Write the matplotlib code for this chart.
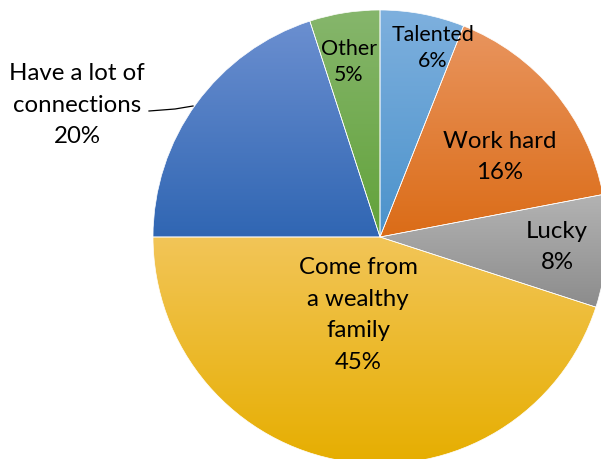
import numpy as np
import matplotlib.pyplot as plt
from matplotlib.colors import LinearSegmentedColormap

plt.rcParams['font.family'] = ['Lato', 'DejaVu Sans']

# survey answers, clockwise from twelve o'clock
categories = ['Talented', 'Work hard', 'Lucky', 'Come from\na wealthy\nfamily',
              'Have a lot of\nconnections', 'Other']
shares = [6, 16, 8, 45, 20, 5]

# light (top) / dark (bottom) shade of each slice
top_colors = ['#7eb0de', '#e9955f', '#b3b3b3', '#f2c558', '#6b8fd0', '#86b66c']
bottom_colors = ['#4b92cb', '#db6c17', '#8c8c8c', '#e6ae00', '#3066b3', '#62a23a']

W, H = 601, 459
cx, cy, radius = 380, 237, 227

fig = plt.figure(figsize=(W / 100, H / 100), dpi=100)
ax = fig.add_axes([0, 0, 1, 1])
ax.set_xlim(0, W)
ax.set_ylim(-H, 0)
ax.set_aspect('equal')
ax.axis('off')

wedges, _ = ax.pie(shares, center=(cx, -cy), radius=radius, startangle=90,
                   counterclock=False, colors=bottom_colors,
                   wedgeprops=dict(edgecolor='white', linewidth=0.5))

# vertical gradient inside each slice
grad = np.linspace(0, 1, 256).reshape(-1, 1)
for w, c0, c1 in zip(wedges, top_colors, bottom_colors):
    ext = w.get_path().get_extents()
    cmap = LinearSegmentedColormap.from_list('g', [c1, c0])
    im = ax.imshow(grad, cmap=cmap, origin='lower', aspect='auto',
                   extent=[ext.x0, ext.x1, ext.y0, ext.y1], zorder=2)
    im.set_clip_path(w)
    w.set_zorder(3)
    w.set_facecolor('none')

ax.set_xlim(0, W)
ax.set_ylim(-H, 0)

# label centres (pixels from top-left); the two thin slices get a smaller font
label_pos = [(433, 48), (500, 157), (557, 247), (358, 315), (77, 105), (349, 62)]
label_size = [15.4, 17.3, 17.3, 17.3, 17.3, 15.4]
label_gap = [1.42, 1.62, 1.62, 1.62, 1.62, 1.42]
for name, val, (x, y), fs, ls in zip(categories, shares, label_pos,
                                     label_size, label_gap):
    ax.text(x, -y, f'{name}\n{val}%', ha='center', va='center', fontsize=fs,
            linespacing=ls, color='black', zorder=5)

# leader line for the outside label
ax.plot([149, 175, 193], [-111, -109, -106], color='black', lw=0.9, zorder=5)

fig.savefig('out.png', dpi=100)
